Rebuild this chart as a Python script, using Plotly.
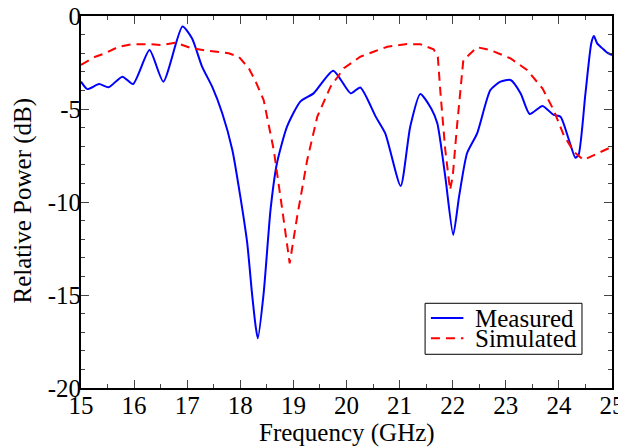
import plotly.graph_objects as go

meas_f = [15.0, 15.12, 15.34, 15.52, 15.78, 15.98, 16.29, 16.55, 16.91, 17.09, 17.28, 17.47, 17.66, 17.85,
          18.0, 18.13, 18.22, 18.29, 18.33, 18.44, 18.57, 18.69, 18.88, 19.13, 19.38, 19.75, 20.08, 20.26,
          20.55, 20.73, 21.02, 21.2, 21.39, 21.6, 21.71, 21.86, 22.01, 22.12, 22.27, 22.46, 22.71, 22.9,
          23.09, 23.28, 23.45, 23.69, 23.9, 24.03, 24.19, 24.31, 24.37, 24.5, 24.61, 24.66, 24.72, 24.82,
          24.91, 25.0]
meas_db = [-3.53, -3.93, -3.66, -3.83, -3.26, -3.66, -1.83, -3.53, -0.57, -1.2, -2.72, -3.8, -5.23, -7.2,
           -9.7, -12.2, -14.9, -16.7, -17.33, -14.9, -10.4, -7.92, -5.95, -4.6, -4.16, -2.94, -4.16, -3.84,
           -5.41, -6.31, -9.14, -5.95, -4.19, -5.0, -5.77, -8.64, -11.77, -9.71, -7.38, -6.31, -3.98, -3.53,
           -3.44, -4.16, -5.27, -4.84, -5.32, -5.41, -6.67, -7.62, -7.47, -4.16, -1.47, -1.08, -1.47, -1.74,
           -1.97, -2.1]

sim_f = [15.0, 15.27, 15.46, 15.71, 15.96, 16.28, 16.53, 16.78, 17.09, 17.41, 17.78, 17.97, 18.16, 18.29,
         18.44, 18.63, 18.79, 18.93, 19.07, 19.26, 19.45, 19.7, 19.95, 20.26, 20.51, 20.77, 21.14, 21.39,
         21.64, 21.72, 21.77, 21.86, 21.95, 22.0, 22.08, 22.2, 22.46, 22.71, 23.09, 23.4, 23.69, 23.9,
         24.09, 24.28, 24.46, 24.72, 25.0]
sim_db = [-2.63, -2.19, -2.0, -1.65, -1.52, -1.51, -1.56, -1.43, -1.74, -1.88, -2.0, -2.19, -2.81, -3.53,
          -4.52, -7.2, -10.4, -13.3, -10.8, -7.74, -5.41, -3.8, -2.81, -2.19, -1.92, -1.65, -1.51, -1.52,
          -1.79, -2.2, -4.16, -7.2, -9.35, -8.64, -5.95, -2.37, -1.68, -1.83, -2.28, -2.9, -3.89, -5.05,
          -6.4, -7.29, -7.74, -7.38, -7.03]

x_ticks = [15, 16, 17, 18, 19, 20, 21, 22, 23, 24, 25]
y_ticks = [0, -5, -10, -15, -20]
y_ticktext = ["0", "-5", "-10", "-15", "-20"]

series = [
    dict(name="Measured", x=meas_f, y=meas_db, color="#0000ff", dash="solid"),
    dict(name="Simulated", x=sim_f, y=sim_db, color="#ff0000", dash="9px,6px"),
]

font = "Liberation Serif"
fs = 25
fig = go.Figure()
for s in series:
    line = dict(color=s["color"], width=2, dash=s["dash"])
    if s["name"] == "Measured":
        line.update(shape="spline", smoothing=0.6)
    fig.add_trace(go.Scatter(x=s["x"], y=s["y"], mode="lines", name=s["name"], line=line))

# legend drawn manually (box, sample lines, labels) in paper coordinates
shapes = [dict(type="rect", xref="paper", yref="paper", x0=0.648, x1=0.9435, y0=0.0906, y1=0.2277,
               line=dict(color="black", width=1), fillcolor="white", layer="above")]
annotations = []
rows_y = [0.188, 0.134]
for s, ry in zip(series, rows_y):
    shapes.append(dict(type="line", xref="paper", yref="paper", x0=0.659, x1=0.7201, y0=ry, y1=ry,
                       line=dict(color=s["color"], width=2, dash=s["dash"]), layer="above"))
    annotations.append(dict(text=s["name"], xref="paper", yref="paper", x=0.7389, y=ry,
                            xanchor="left", yanchor="middle", showarrow=False,
                            font=dict(family=font, size=fs, color="black")))

annotations.append(dict(text="Frequency (GHz)", xref="paper", yref="paper", x=0.5, y=-0.121,
                        xanchor="center", yanchor="middle", showarrow=False,
                        font=dict(family=font, size=fs, color="black")))
annotations.append(dict(text="Relative Power (dB)", xref="paper", yref="paper", x=-0.110, y=0.503,
                        xanchor="center", yanchor="middle", showarrow=False, textangle=-90,
                        font=dict(family=font, size=fs, color="black")))

# the page places the figure 8px in from the top-left corner, so the figure is
# 8px smaller and its margins are shifted accordingly
fig.update_layout(
    width=618, height=440,
    margin=dict(l=72.5, r=14.3, t=8, b=60),
    paper_bgcolor="white", plot_bgcolor="white",
    font=dict(family=font, color="black", size=fs),
    showlegend=False,
    shapes=shapes, annotations=annotations,
    xaxis=dict(range=[15, 25], tickvals=x_ticks, ticks="inside", ticklen=8, tickwidth=1,
               showline=True, linecolor="black", linewidth=2, mirror="allticks",
               showgrid=False, zeroline=False, automargin=False, ticklabeloverflow="allow",
               ticklabelstandoff=-6,
               minor=dict(dtick=0.5, ticks="inside", ticklen=4, tickwidth=1, showgrid=False),
               tickfont=dict(family=font, size=fs)),
    yaxis=dict(range=[-20, 0], tickvals=y_ticks, ticktext=y_ticktext, ticks="inside", ticklen=8,
               tickwidth=1, showline=True, linecolor="black", linewidth=2, mirror="allticks",
               showgrid=False, zeroline=False, automargin=False, ticklabeloverflow="allow",
               ticklabelstandoff=-7,
               minor=dict(dtick=1, ticks="inside", ticklen=4, tickwidth=1, showgrid=False),
               tickfont=dict(family=font, size=fs)),
)
fig.write_html("out.html")
